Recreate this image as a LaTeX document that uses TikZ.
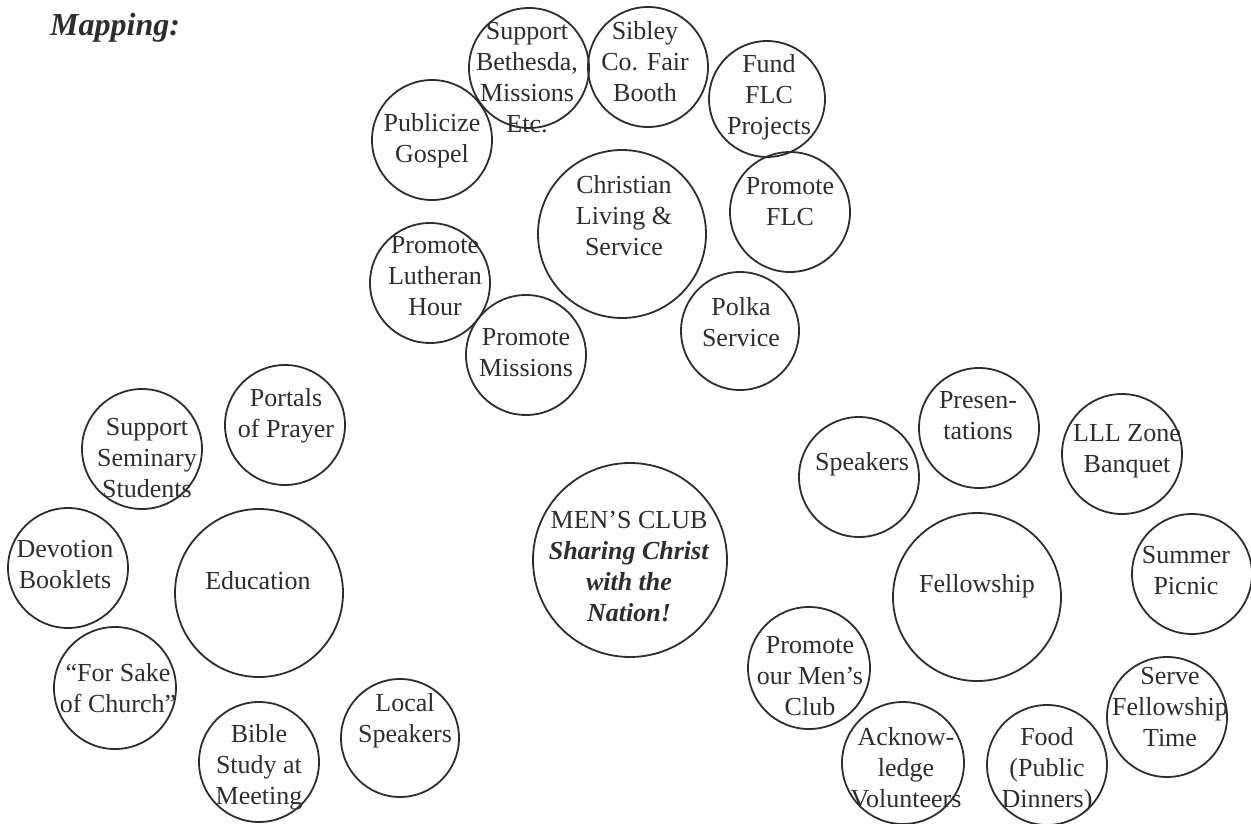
\documentclass[tikz,border=0pt]{standalone}
\usepackage{fontspec}
\setmainfont{Liberation Serif}
\definecolor{ink}{RGB}{45,45,45}
\tikzset{
  bubble/.style={circle, draw=ink, line width=1.8pt, inner sep=0pt},
  lbl/.style={text=ink, align=center, inner sep=0pt,
    font=\fontsize{26}{31}\selectfont},
  heading/.style={text=ink, inner sep=0pt,
    font=\fontsize{32}{38}\selectfont\bfseries\itshape}
}
% \bub{name}{cx}{cy}{radius}{text x}{text y}{text}
\newcommand\bub[7]{%
  \node[bubble, minimum size=2*#4pt] (#1) at (#2,#3) {};
  \node[lbl] (#1-t) at (#5,#6) {#7};
}
\begin{document}
\begin{tikzpicture}[x=1pt, y=-1pt]
\useasboundingbox (0,0) rectangle (1251,823);

\node[heading, anchor=base west] (title) at (50,35) {Mapping:};

% Christian living & service cluster
\bub{bethesda}{529}{68}{60}{527}{78}{Support\\Bethesda,\\Missions\\Etc.}
\bub{sibley}{648}{67}{60}{645}{62}{Sibley\\Co. Fair\\Booth}
\bub{fundflc}{767}{99}{58}{769}{97}{Fund\\FLC\\Projects}
\bub{publicize}{432}{140}{60}{432}{141}{Publicize\\Gospel}
\bub{christian}{622}{234}{84}{624}{216}{Christian\\Living \&\\Service}
\bub{promoteflc}{790}{212}{60}{790}{202}{Promote\\FLC}
\bub{lutheran}{430}{283}{60}{435}{276}{Promote\\Lutheran\\Hour}
\bub{polka}{740}{331}{59}{741}{322}{Polka\\Service}
\bub{missions}{526}{355}{60}{526}{353}{Promote\\Missions}

% Education cluster
\bub{portals}{285}{425}{60}{286}{416}{Portals\\of Prayer}
\bub{seminary}{142}{449}{60}{147}{458}{Support\\Seminary\\Students}
\bub{devotion}{68}{568}{60}{65}{565}{Devotion\\Booklets}
\bub{education}{259}{593}{84}{258}{581}{Education}
\bub{forsake}{115}{688}{61}{118}{688}{“For Sake\\of Church”}
\bub{bible}{259}{762}{60}{259}{767}{Bible\\Study at\\Meeting}
\bub{local}{400}{738}{59}{405}{721}{Local\\Speakers}

% Centre
\bub{mensclub}{630}{560}{97}{629}{567}{MEN’S CLUB\\\textbf{\textit{Sharing Christ}}\\\textbf{\textit{with the}}\\\textbf{\textit{Nation!}}}

% Fellowship cluster
\bub{presentations}{979}{428}{60}{978}{416}{Presen-\\tations}
\bub{lll}{1122}{454}{60}{1127}{451}{LLL Zone\\Banquet}
\bub{speakers}{859}{477}{60}{862}{464}{Speakers}
\bub{fellowship}{977}{597}{84}{977}{586}{Fellowship}
\bub{summer}{1192}{574}{60}{1186}{571}{Summer\\Picnic}
\bub{promoteclub}{809}{668}{61}{810}{676}{Promote\\our Men’s\\Club}
\bub{serve}{1167}{717}{60}{1170}{707}{Serve\\Fellowship\\Time}
\bub{acknowledge}{903}{763}{61}{906}{768}{Acknow-\\ledge\\Volunteers}
\bub{food}{1047}{765}{60}{1047}{770}{Food\\(Public\\Dinners)}
\end{tikzpicture}
\end{document}
